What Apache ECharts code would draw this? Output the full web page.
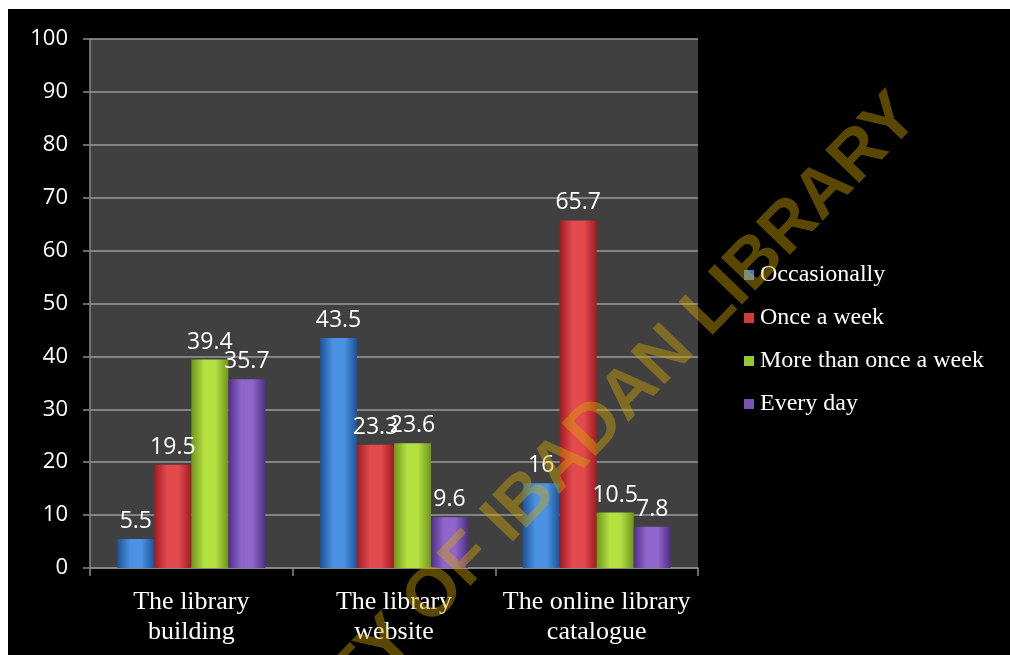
<!DOCTYPE html>
<html>
<head>
<meta charset="utf-8">
<script src="https://cdn.jsdelivr.net/npm/echarts@6/dist/echarts.min.js"></script>
<style>
html,body{margin:0;padding:0;background:#fff;width:1010px;height:655px;overflow:hidden;}
#c{position:absolute;left:8px;top:9px;width:1002px;height:646px;background:#000;}
</style>
</head>
<body>
<div id="c"></div>
<script>
const categories = ['The library\nbuilding', 'The library\nwebsite', 'The online library\ncatalogue'];
const seriesNames = ['Occasionally', 'Once a week', 'More than once a week', 'Every day'];
const occasionally = [5.5, 43.5, 16];
const onceAWeek = [19.5, 23.3, 65.7];
const moreThanOnce = [39.4, 23.6, 10.5];
const everyDay = [35.7, 9.6, 7.8];
const yTicks = {min: 0, max: 100, interval: 10};
const watermark = 'UNIVERSITY OF IBADAN LIBRARY';

const seriesData = [occasionally, onceAWeek, moreThanOnce, everyDay];
const palette = [
  {edge: '#1d5298', mid: '#4b93e2', legend: '#3b7fd0'},
  {edge: '#a01c22', mid: '#e34a4e', legend: '#d23a3e'},
  {edge: '#6f961a', mid: '#b4e042', legend: '#98c830'},
  {edge: '#4e2f86', mid: '#9066cc', legend: '#7c52b8'}
];
function grad(p) {
  return new echarts.graphic.LinearGradient(0, 0, 1, 0, [
    {offset: 0, color: p.edge},
    {offset: 0.35, color: p.mid},
    {offset: 0.65, color: p.mid},
    {offset: 1, color: p.edge}
  ]);
}

const chart = echarts.init(document.getElementById('c'));
chart.setOption({
  backgroundColor: '#000',
  animation: false,
  grid: {left: 82, right: 312, top: 30, bottom: 87, show: true, backgroundColor: '#404040', borderWidth: 0},
  legend: {
    orient: 'vertical', left: 731, top: 249, itemGap: 19,
    itemWidth: 10, itemHeight: 10, icon: 'rect',
    textStyle: {color: '#fff', fontFamily: 'Liberation Serif', fontSize: 24, padding: [0, 0, 0, 1]},
    data: seriesNames.map((n, i) => ({name: n, itemStyle: {color: palette[i].legend}}))
  },
  xAxis: {
    type: 'category', data: categories,
    axisLine: {lineStyle: {color: '#8a8a8a', width: 1.5}},
    axisTick: {show: true, length: 8, lineStyle: {color: '#8a8a8a', width: 1.5}},
    axisLabel: {interval: 0, color: '#fff', fontFamily: 'Liberation Serif', fontSize: 26, lineHeight: 30, margin: 19}
  },
  yAxis: {
    type: 'value', min: yTicks.min, max: yTicks.max, interval: yTicks.interval,
    axisLine: {show: true, lineStyle: {color: '#8a8a8a', width: 1.5}},
    axisTick: {show: true, length: 7, lineStyle: {color: '#8a8a8a', width: 1.5}},
    axisLabel: {color: '#fff', fontFamily: 'Open Sans', fontSize: 22, margin: 22},
    splitLine: {lineStyle: {color: '#9a9a9a', width: 1.5}}
  },
  series: seriesNames.map((n, i) => ({
    name: n, type: 'bar', data: seriesData[i],
    barGap: '0%', barCategoryGap: '27%',
    itemStyle: {color: grad(palette[i])},
    label: {show: true, position: 'top', distance: 6, color: '#fff', fontFamily: 'Open Sans', fontSize: 23}
  })),
  graphic: [{
    type: 'text', z: 100, silent: true,
    x: 899, y: 97, rotation: 46 * Math.PI / 180,
    style: {
      text: watermark, fill: 'rgba(215,170,0,0.42)',
      font: 'bold 69px "Liberation Sans"', align: 'right', verticalAlign: 'middle'
    }
  }]
});
</script>
</body>
</html>
